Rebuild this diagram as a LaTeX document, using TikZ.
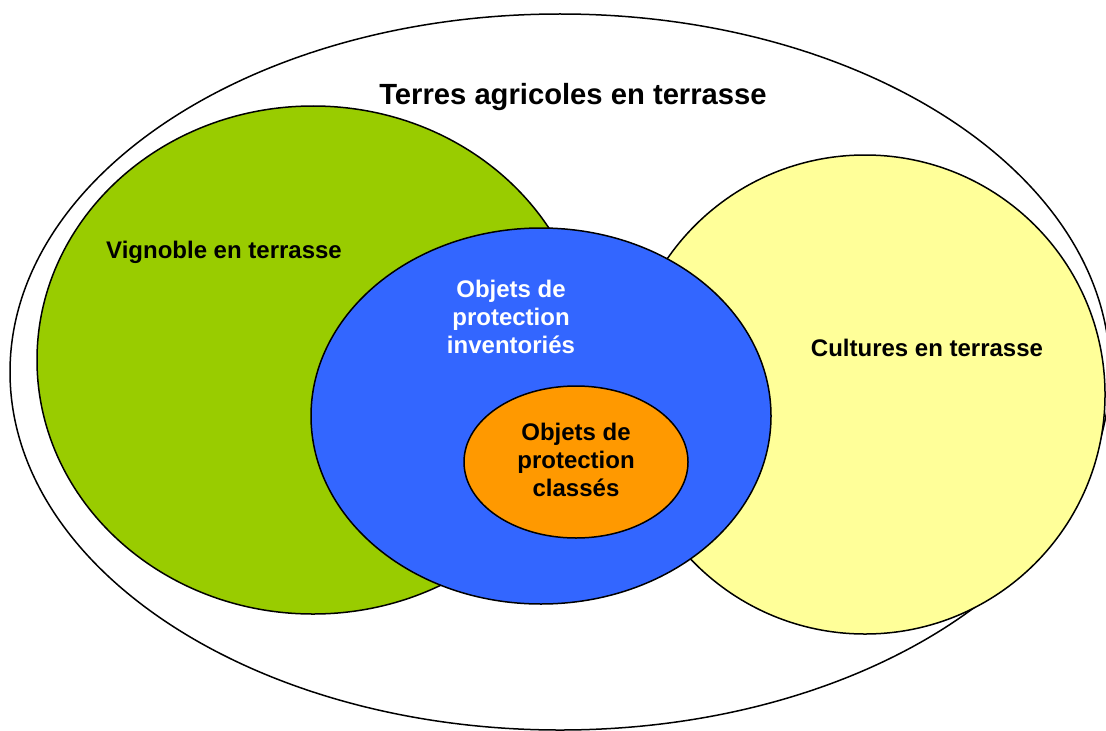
\documentclass[tikz,border=0pt]{standalone}
\usepackage{fontspec}
\setmainfont{Liberation Sans}
\definecolor{vigne}{HTML}{99CC00}
\definecolor{culture}{HTML}{FFFF99}
\definecolor{inventaire}{HTML}{3366FF}
\definecolor{classe}{HTML}{FF9900}
\tikzset{
  zone/.style={draw=black, line width=0.75pt},
  label/.style={font=\bfseries\fontsize{12}{14}\selectfont, align=center}
}
\begin{document}
\begin{tikzpicture}[x=0.5pt, y=0.5pt]
    \clip (0, 0) rectangle (1106, 730);
    \draw[zone, fill=white] (560, 358) ellipse [x radius=550, y radius=358];
    \draw[zone, fill=vigne] (313, 370) ellipse [x radius=276, y radius=254];
    \draw[zone, fill=culture] (865, 335.5) ellipse [x radius=240, y radius=239.5];
    \draw[zone, fill=inventaire] (541, 314) ellipse [x radius=230, y radius=188];
    \draw[zone, fill=classe] (576, 268) ellipse [x radius=112, y radius=76];
    \node[label, font=\bfseries\fontsize{14.6}{17}\selectfont] (terres) at (573, 633) {Terres agricoles en terrasse};
    \node[label] (vignoble) at (224, 478) {Vignoble en terrasse};
    \node[label] (cultures) at (927, 382) {Cultures en terrasse};
    \node[label, text=white] (inventories) at (511, 413) {Objets de\\protection\\inventoriés};
    \node[label] (classes) at (576, 270) {Objets de\\protection\\classés};
  \end{tikzpicture}
\end{document}
